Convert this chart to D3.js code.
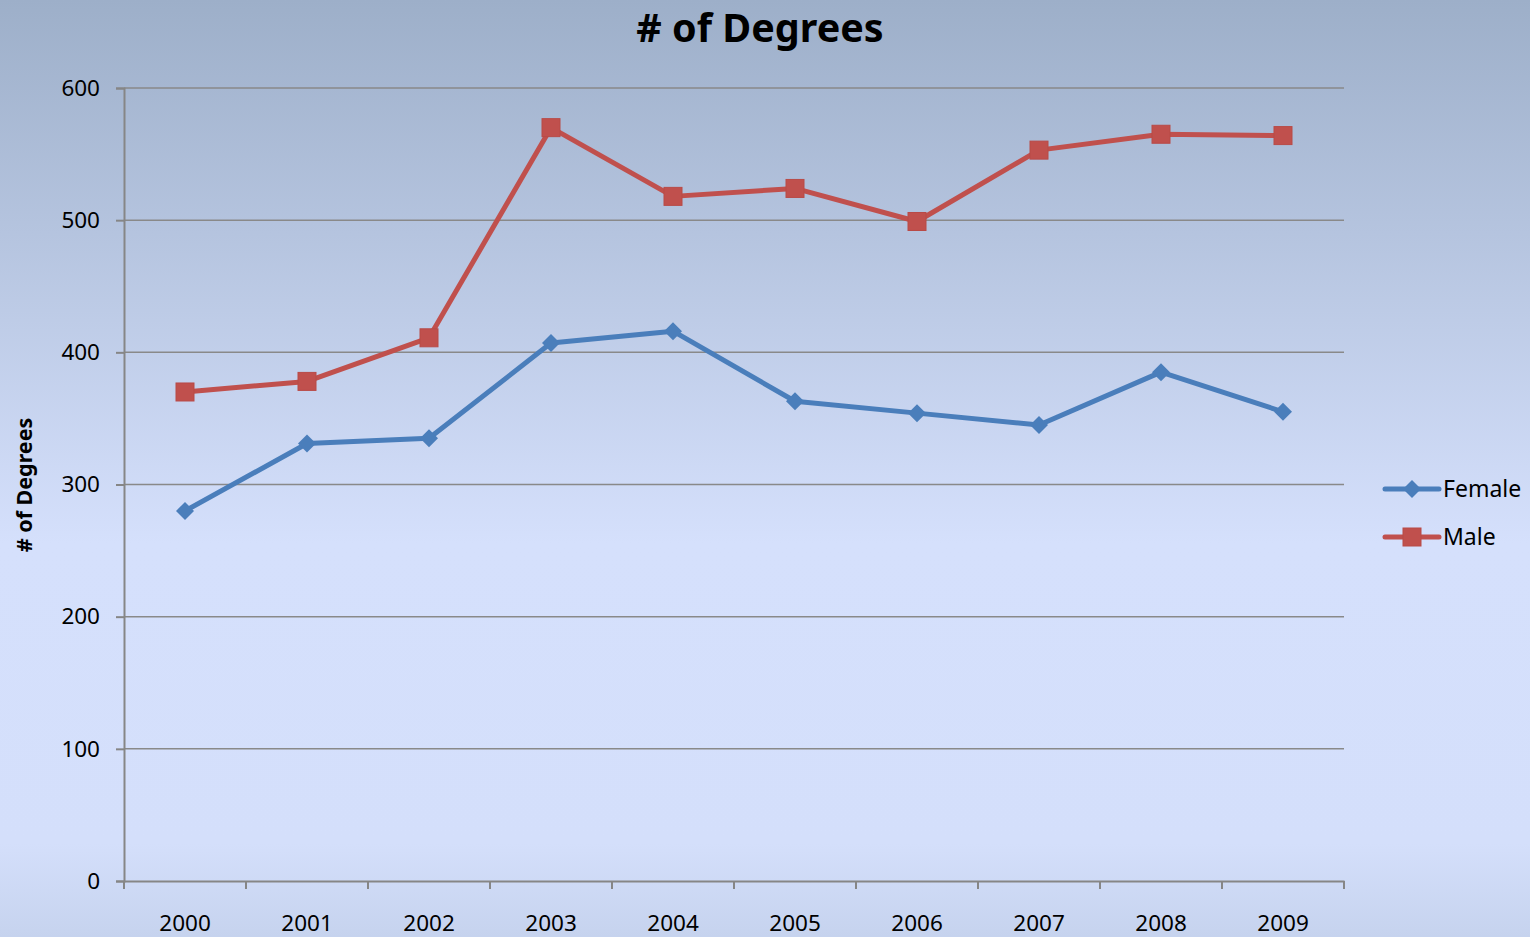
<!DOCTYPE html>
<html>
<head>
<meta charset="utf-8">
<script src="https://cdn.jsdelivr.net/npm/d3@7"></script>
<style>
  body { margin: 0; overflow: hidden; }
  text { font-family: "Noto Sans", "Open Sans", sans-serif; }
</style>
</head>
<body>
<div id="chart"></div>
<script>
// data
const years = ["2000", "2001", "2002", "2003", "2004", "2005", "2006", "2007", "2008", "2009"];
const female = [280, 331, 335, 407, 416, 363, 354, 345, 385, 355];
const male = [370, 378, 411, 570, 518, 524, 499, 553, 565, 564];
const yTicks = [0, 100, 200, 300, 400, 500, 600];

const W = 1530;
const H = 937;
const plot = { left: 124, right: 1344, top: 88, bottom: 881 };

const svg = d3.select("#chart").append("svg").attr("width", W).attr("height", H);

// background gradient
const grad = svg.append("defs").append("linearGradient")
  .attr("id", "bg").attr("x1", 0).attr("y1", 0).attr("x2", 0).attr("y2", 1);
grad.append("stop").attr("offset", "0").attr("stop-color", "#9dafc9");
grad.append("stop").attr("offset", "0.58").attr("stop-color", "#d5e0fc");
grad.append("stop").attr("offset", "0.9").attr("stop-color", "#d4dffb");
grad.append("stop").attr("offset", "1").attr("stop-color", "#c6d3ee");
svg.append("rect").attr("width", W).attr("height", H).attr("fill", "url(#bg)");

const x = d3.scaleBand().domain(years).range([plot.left, plot.right]);
const y = d3.scaleLinear().domain([0, 600]).range([plot.bottom, plot.top]);
const cx = (d) => x(d) + x.bandwidth() / 2;

// gridlines
svg.append("g")
  .selectAll("line")
  .data(yTicks.filter((t) => t > 0))
  .join("line")
  .attr("x1", plot.left).attr("x2", plot.right)
  .attr("y1", (d) => y(d)).attr("y2", (d) => y(d))
  .attr("stroke", "#898989").attr("stroke-width", 1.5);

// y axis
const yAxis = svg.append("g")
  .attr("transform", `translate(${plot.left},0)`)
  .call(d3.axisLeft(y).tickValues(yTicks).tickSize(8).tickPadding(16));
yAxis.select(".domain").attr("stroke", "#868686").attr("stroke-width", 2);
yAxis.selectAll(".tick line").attr("stroke", "#868686").attr("stroke-width", 2);
yAxis.selectAll(".tick text").attr("font-size", 22.5).attr("fill", "#000");

// x axis: ticks at category boundaries
const xAxis = svg.append("g")
  .attr("transform", `translate(0,${plot.bottom})`)
  .call(d3.axisBottom(x).tickSize(0).tickPadding(34));
xAxis.select(".domain").attr("stroke", "#868686").attr("stroke-width", 2);
xAxis.selectAll(".tick text").attr("font-size", 22.5).attr("fill", "#000");
xAxis.selectAll(".bound")
  .data(years.concat(["end"]))
  .join("line")
  .attr("class", "bound")
  .attr("x1", (d, i) => (i < years.length ? x(d) : plot.right))
  .attr("x2", (d, i) => (i < years.length ? x(d) : plot.right))
  .attr("y1", 0).attr("y2", 8)
  .attr("stroke", "#868686").attr("stroke-width", 2);

// title
svg.append("text")
  .attr("x", 760).attr("y", 42)
  .attr("text-anchor", "middle")
  .attr("font-size", 39.5).attr("font-weight", "bold")
  .text("# of Degrees");

// y axis title
svg.append("text")
  .attr("transform", "translate(32,485) rotate(-90)")
  .attr("text-anchor", "middle")
  .attr("font-size", 21.5).attr("font-weight", "bold")
  .text("# of Degrees");

const series = [
  { name: "Female", values: female, color: "#4a7ebb", marker: "diamond" },
  { name: "Male", values: male, color: "#c0504d", marker: "square" }
];

const line = d3.line().x((d, i) => cx(years[i])).y((d) => y(d));

function drawMarker(g, type, color) {
  if (type === "diamond") {
    g.append("path").attr("d", "M0,-9L9,0L0,9L-9,0Z").attr("fill", color);
  } else {
    g.append("rect").attr("x", -9).attr("y", -9).attr("width", 18).attr("height", 18)
      .attr("fill", color).attr("stroke", "#b84a47").attr("stroke-width", 1);
  }
}

series.forEach((s) => {
  svg.append("path")
    .datum(s.values)
    .attr("d", line)
    .attr("fill", "none")
    .attr("stroke", s.color)
    .attr("stroke-width", 5)
    .attr("stroke-linejoin", "round");
  s.values.forEach((v, i) => {
    const g = svg.append("g").attr("transform", `translate(${cx(years[i])},${y(v)})`);
    drawMarker(g, s.marker, s.color);
  });
});

// legend
const legend = svg.append("g").attr("transform", "translate(1385,489)");
series.forEach((s, i) => {
  const g = legend.append("g").attr("transform", `translate(0,${i * 48})`);
  g.append("line").attr("x1", 0).attr("x2", 54).attr("stroke", s.color)
    .attr("stroke-width", 5).attr("stroke-linecap", "round");
  const m = g.append("g").attr("transform", "translate(27,0)");
  drawMarker(m, s.marker, s.color);
  g.append("text").attr("x", 58).attr("y", 8).attr("font-size", 23).text(s.name);
});
</script>
</body>
</html>
